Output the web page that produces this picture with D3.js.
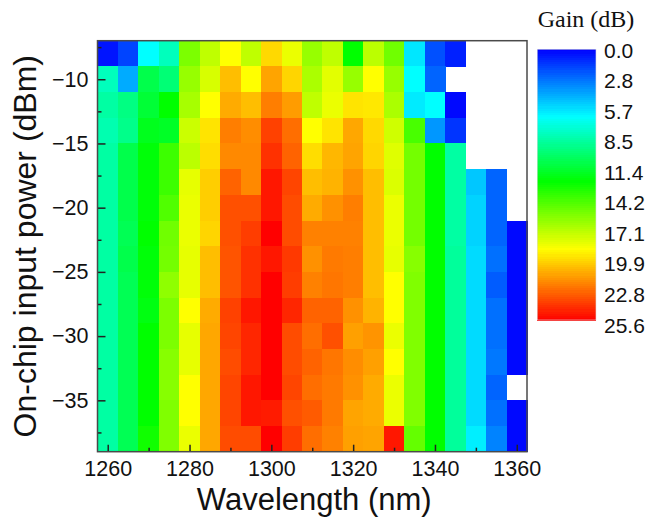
<!DOCTYPE html>
<html>
<head>
<meta charset="utf-8">
<script src="https://cdn.jsdelivr.net/npm/d3@7"></script>
<style>
  body { margin: 0; background: #fff; }
  svg { display: block; }
</style>
</head>
<body>
<svg id="chart" width="647" height="525"></svg>
<script>
// Wavelength columns (nm) and on-chip input power rows (dBm)
const wavelengths = [1260, 1265, 1270, 1275, 1280, 1285, 1290, 1295, 1300, 1305, 1310,
                     1315, 1320, 1325, 1330, 1335, 1340, 1345, 1350, 1355, 1360];
const powers = [-8, -10, -12, -14, -16, -18, -20, -22, -24, -26, -28, -30, -32, -34, -36, -38];

// Gain (dB): one row per input power, one entry per wavelength; null = not measured
const gain = [
  [0.5, 1.7, 6.4, 8.0, 15.6, 17.3, 18.9, 17.3, 19.9, 18.4, 16.3, 17.3, 12.5, 17.2, 15.3, 5.8, 2.0, 0.8, null, null, null],
  [8.0, 4.3, 10.7, 9.7, 16.3, 17.9, 20.6, 18.9, 21.3, 20.0, 16.8, 18.2, 16.3, 18.9, 16.3, 6.4, 2.5, null, null, null, null],
  [8.6, 9.4, 11.2, 12.5, 16.7, 18.9, 21.1, 20.6, 22.3, 21.5, 17.3, 18.4, 19.6, 19.5, 16.8, 5.9, 6.4, 0.2, null, null, null],
  [8.3, 9.2, 11.8, 11.6, 17.6, 19.6, 22.3, 21.9, 23.9, 22.7, 18.9, 19.6, 21.2, 19.9, 17.7, 14.3, 3.8, 1.3, null, null, null],
  [8.6, 10.7, 12.3, 14.0, 17.2, 19.8, 22.0, 22.0, 24.3, 23.0, 19.8, 20.8, 21.3, 20.0, 18.1, 15.4, 12.5, 8.6, null, null, null],
  [8.6, 10.7, 12.3, 14.0, 18.3, 20.2, 23.0, 22.0, 25.0, 23.8, 20.6, 20.9, 21.8, 20.6, 18.0, 15.4, 12.5, 8.6, 5.0, 2.5, null],
  [8.6, 10.7, 12.3, 14.5, 18.4, 20.2, 23.5, 23.5, 25.0, 23.6, 21.1, 21.8, 22.3, 20.6, 18.4, 15.4, 12.5, 8.6, 5.3, 2.5, null],
  [8.6, 10.5, 12.5, 15.3, 18.4, 20.0, 23.5, 24.0, 25.6, 23.6, 22.2, 22.2, 22.2, 20.6, 18.4, 15.4, 12.5, 8.6, 5.3, 2.5, 0.2],
  [8.6, 10.7, 12.3, 15.4, 18.3, 20.6, 23.4, 24.3, 25.0, 24.1, 21.8, 22.4, 22.3, 20.6, 18.3, 15.9, 12.5, 8.8, 5.5, 2.8, 0.2],
  [8.6, 10.5, 12.3, 16.1, 18.3, 20.6, 23.4, 24.3, 25.6, 24.0, 22.2, 22.5, 22.3, 20.6, 18.9, 15.7, 12.5, 8.8, 5.5, 2.3, 0.2],
  [8.6, 10.5, 12.1, 15.6, 18.9, 21.1, 23.9, 25.0, 25.6, 24.6, 23.0, 23.0, 21.8, 20.9, 18.9, 15.7, 12.5, 8.8, 5.5, 2.8, 0.2],
  [8.6, 10.5, 12.5, 15.6, 18.3, 21.2, 23.8, 24.6, 25.6, 23.6, 22.7, 23.5, 21.4, 21.7, 18.4, 15.7, 12.5, 8.8, 5.5, 2.8, 0.2],
  [8.6, 10.5, 12.5, 15.9, 18.3, 21.2, 23.6, 24.6, 25.6, 23.6, 23.0, 22.5, 21.9, 21.4, 18.9, 15.7, 12.5, 8.8, 5.5, 3.0, 0.2],
  [8.6, 10.5, 12.5, 15.9, 18.9, 21.2, 23.8, 25.0, 25.6, 23.8, 22.7, 22.4, 21.8, 21.1, 18.4, 15.7, 12.5, 8.8, 5.5, 2.5, null],
  [8.6, 10.5, 12.5, 15.7, 18.9, 21.2, 23.8, 25.0, 24.9, 23.5, 23.2, 22.4, 21.3, 21.1, 18.4, 15.7, 12.5, 8.8, 5.5, 2.8, 0.2],
  [8.6, 10.5, 12.9, 15.7, 18.4, 21.2, 23.6, 23.6, 25.6, 24.0, 22.7, 22.2, 21.4, 21.3, 25.0, 15.0, 12.5, 8.8, 6.0, 3.3, 0.2]
];

// Axis ticks
const xMajorTicks = [1260, 1280, 1300, 1320, 1340, 1360];
const xMinorTicks = [1270, 1290, 1310, 1330, 1350];
const yMajorTicks = [-10, -15, -20, -25, -30, -35];
const yMinorTicks = [-7.5, -12.5, -17.5, -22.5, -27.5, -32.5, -37.5];
const gainTicks = [0.0, 2.8, 5.7, 8.5, 11.4, 14.2, 17.1, 19.9, 22.8, 25.6];

const SANS = "'Liberation Sans', Arial, sans-serif";
const SERIF = "'Liberation Serif', 'Times New Roman', serif";

const svg = d3.select("#chart");

// Rainbow colour map: blue -> cyan -> green -> yellow -> red
const color = d3.scaleLinear()
  .domain([0, 6.4, 12.5, 18.9, 25.6])
  .range(["#0000ff", "#00ffff", "#00ff00", "#ffff00", "#ff0000"])
  .clamp(true);

const plot = { left: 97.5, right: 527, top: 40.7, bottom: 451.7 };
const x = d3.scaleLinear().domain([1257.5, 1362.5]).range([plot.left, plot.right]);
const y = d3.scaleLinear().domain([-7, -39]).range([plot.top, plot.bottom]);

// Heat-map cells
const cells = [];
powers.forEach((p, i) => wavelengths.forEach((w, j) => {
  if (gain[i][j] !== null) cells.push({ w, p, g: gain[i][j] });
}));

svg.append("g").selectAll("rect").data(cells).join("rect")
  .attr("x", d => x(d.w - 2.5))
  .attr("y", d => y(d.p + 1))
  .attr("width", d => x(d.w + 2.5) - x(d.w - 2.5) + 0.5)
  .attr("height", d => y(d.p - 1) - y(d.p + 1) + 0.5)
  .attr("fill", d => color(d.g))
  .attr("shape-rendering", "crispEdges");

// Axes with inward ticks
svg.append("g").attr("transform", `translate(0,${plot.bottom})`)
  .call(d3.axisBottom(x).tickValues(xMajorTicks).tickSize(-7).tickPadding(9).tickFormat(d3.format("d")));
svg.append("g").attr("transform", `translate(0,${plot.bottom})`)
  .call(d3.axisBottom(x).tickValues(xMinorTicks).tickSize(-4).tickFormat(""));
svg.append("g").attr("transform", `translate(${plot.left},0)`)
  .call(d3.axisLeft(y).tickValues(yMajorTicks).tickSize(-8).tickPadding(9));
svg.append("g").attr("transform", `translate(${plot.left},0)`)
  .call(d3.axisLeft(y).tickValues(yMinorTicks).tickSize(-4).tickFormat(""));

svg.selectAll(".domain").remove();
svg.selectAll(".tick line").attr("stroke", "#222").attr("stroke-width", 1.5);
svg.selectAll(".tick text")
  .style("font-family", SANS).style("font-size", "21.5px").style("fill", "#111");

// Frame around the plot area
svg.append("rect")
  .attr("x", plot.left).attr("y", plot.top)
  .attr("width", plot.right - plot.left).attr("height", plot.bottom - plot.top)
  .attr("fill", "none").attr("stroke", "#4a4a4a").attr("stroke-width", 1.5);

// Axis titles
svg.append("text")
  .attr("x", (plot.left + plot.right) / 2 + 2).attr("y", 510)
  .attr("text-anchor", "middle")
  .style("font-family", SANS).style("font-size", "31px").style("fill", "#111")
  .text("Wavelength (nm)");

svg.append("text")
  .attr("transform", `translate(36,${(plot.top + plot.bottom) / 2}) rotate(-90)`)
  .attr("text-anchor", "middle")
  .style("font-family", SANS).style("font-size", "32px").style("fill", "#111")
  .text("On-chip input power (dBm)");

// Colour bar
const bar = { left: 537.3, right: 596, top: 49.3, bottom: 320 };
const cb = d3.scaleLinear().domain([0, 25.6]).range([bar.top, bar.bottom]);
const steps = d3.range(0, 25.6, 0.2);
svg.append("g").selectAll("rect").data(steps).join("rect")
  .attr("x", bar.left).attr("width", bar.right - bar.left)
  .attr("y", d => cb(d))
  .attr("height", d => cb(Math.min(d + 0.2, 25.6)) - cb(d) + 0.6)
  .attr("fill", d => color(d + 0.1))
  .attr("shape-rendering", "crispEdges");
svg.append("rect")
  .attr("x", bar.left).attr("y", bar.top)
  .attr("width", bar.right - bar.left).attr("height", bar.bottom - bar.top)
  .attr("fill", "none").attr("stroke", "#ddd").attr("stroke-width", 0.6);

const cbLabel = d3.scaleLinear().domain([0, 25.6]).range([50, 325]);
svg.append("g").selectAll("text").data(gainTicks).join("text")
  .attr("x", 604).attr("y", d => cbLabel(d))
  .attr("dy", "0.36em")
  .style("font-family", SANS).style("font-size", "21px").style("fill", "#111")
  .text(d => d3.format(".1f")(d));

svg.append("text")
  .attr("x", 586).attr("y", 27)
  .attr("text-anchor", "middle")
  .style("font-family", SERIF).style("font-size", "24px").style("fill", "#111")
  .text("Gain (dB)");
</script>
</body>
</html>
